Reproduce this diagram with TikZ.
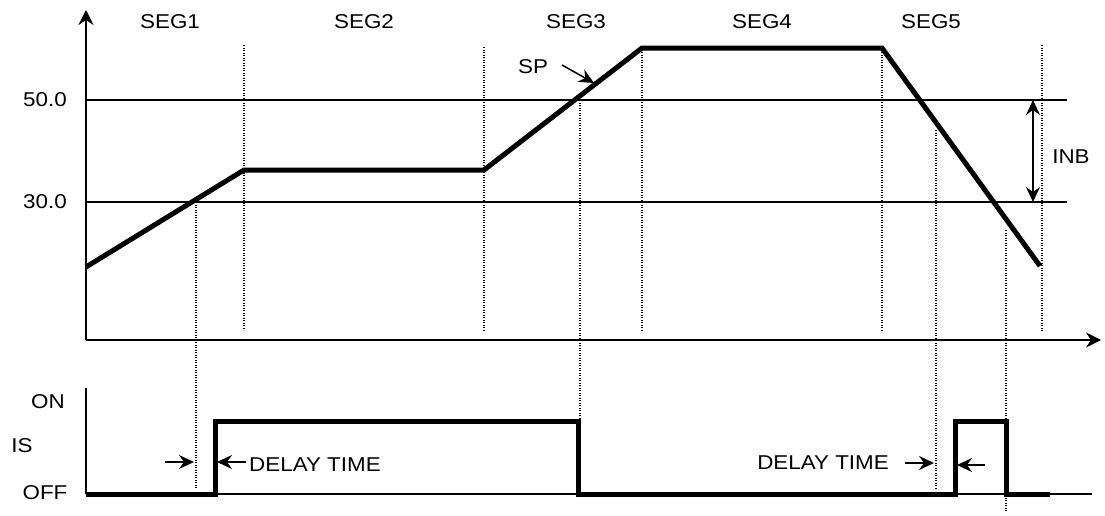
\documentclass[tikz,border=0pt]{standalone}
\usepackage{fontspec}
\setmainfont{Liberation Sans}[FakeStretch=1.12]
\usetikzlibrary{arrows.meta}
\begin{document}
\begin{tikzpicture}[x=1pt,y=-1pt,
  lbl/.style={font=\fontsize{20}{23}\selectfont,inner sep=0pt},
  axisline/.style={line width=2pt},
  thinline/.style={line width=1.2pt},
  sigline/.style={line width=5pt,line join=miter},
  dotline/.style={line width=1.3pt,dash pattern=on 1.2pt off 1.3pt},
  arr/.style={line width=1.5pt,-{Stealth[length=15pt,width=14pt,inset=5pt]}},
  dblarr/.style={line width=1.5pt,{Stealth[length=15pt,width=14pt,inset=5pt]}-{Stealth[length=15pt,width=14pt,inset=5pt]}},
  axarr/.style={axisline,-{Stealth[length=15pt,width=15pt,inset=5pt]}}]
\useasboundingbox (0,0) rectangle (1105,515);
% coordinates
\coordinate (O) at (86,340);
\coordinate (Ytop) at (86,10);
\coordinate (Xend) at (1101,340);
% reference lines
\coordinate (a50) at (86,100); \coordinate (b50) at (1067,100);
\coordinate (a30) at (86,202); \coordinate (b30) at (1067,202);
\draw[thinline] (a50) -- (b50);
\draw[thinline] (a30) -- (b30);
% dotted segment lines
\foreach \x/\ya/\yb in {244/45/330, 484/47/330, 642/47/330, 882/47/332, 1042/45/332,
  196/202/488, 580/100/421, 936/130/490, 1006/230/512}
  \draw[dotline] (\x,\ya) -- (\x,\yb);
% axes
\draw[axarr] (O) -- (Ytop);
\draw[axarr] (O) -- (Xend);
% SP profile
\draw[sigline] (86,267) -- (244,170) -- (484,170) -- (642,48) -- (882,48) -- (1040,266);
% labels
\node[lbl] (l50) at (45,100) {50.0};
\node[lbl] (l30) at (45,202) {30.0};
\node[lbl] (s1) at (170,22) {SEG1};
\node[lbl] (s2) at (364,22) {SEG2};
\node[lbl] (s3) at (576,22) {SEG3};
\node[lbl] (s4) at (762,22) {SEG4};
\node[lbl] (s5) at (931,22) {SEG5};
\node[lbl] (sp) at (533,67) {SP};
\coordinate (spa) at (562,65); \coordinate (spb) at (594,83);
\draw[arr] (spa) -- (spb);
\coordinate (inbT) at (1033,100); \coordinate (inbB) at (1033,202);
\draw[dblarr] (inbT) -- (inbB);
\node[lbl] (inb) at (1071,157) {INB};
% bottom chart
\coordinate (bTop) at (86,388); \coordinate (bO) at (86,494); \coordinate (bEnd) at (1092,494);
\draw[axisline] (bTop) -- (bO);
\draw[thinline] (bO) -- (bEnd);
\draw[sigline] (86,494) -- (215,494) -- (215,421) -- (578,421) -- (578,494) -- (955,494) -- (955,421) -- (1006,421) -- (1006,494) -- (1050,494);
\node[lbl] (on) at (48,402) {ON};
\node[lbl] (is) at (22,446) {IS};
\node[lbl] (off) at (45,493) {OFF};
% delay time 1
\coordinate (d1a) at (165,462); \coordinate (d1b) at (194,462);
\coordinate (d2a) at (246,462); \coordinate (d2b) at (217,462);
\draw[arr] (d1a) -- (d1b);
\draw[arr] (d2a) -- (d2b);
\node[lbl,anchor=west] (dt1) at (249,465) {DELAY TIME};
% delay time 2
\node[lbl,anchor=east] (dt2) at (889,463) {DELAY TIME};
\coordinate (d3a) at (905,463); \coordinate (d3b) at (934,463);
\coordinate (d4a) at (985,465); \coordinate (d4b) at (957,465);
\draw[arr] (d3a) -- (d3b);
\draw[arr] (d4a) -- (d4b);
\end{tikzpicture}
\end{document}
